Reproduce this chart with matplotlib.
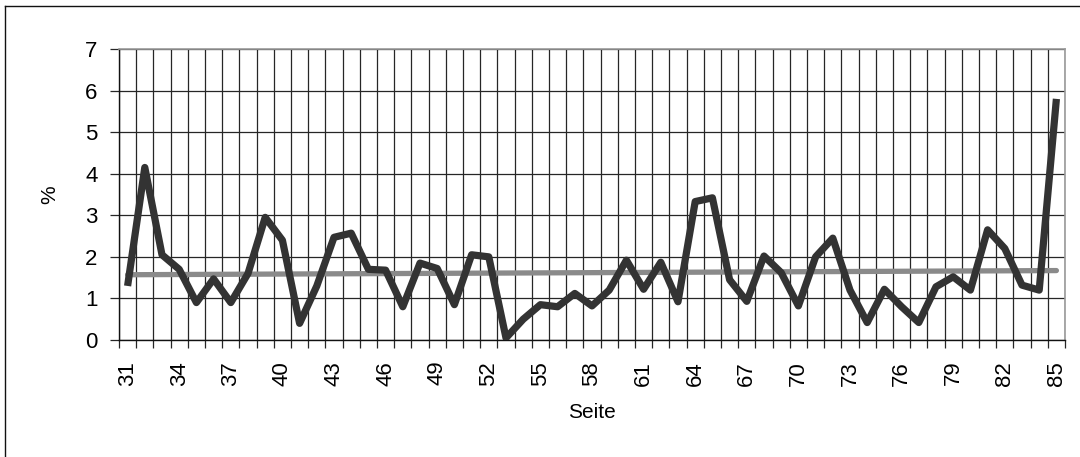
import matplotlib
matplotlib.use("Agg")
import matplotlib.pyplot as plt
from matplotlib.lines import Line2D
from matplotlib.ticker import FixedLocator, NullFormatter

plt.rcParams['font.family'] = ['Liberation Sans', 'DejaVu Sans']

# Pages and share per page (%)
pages = list(range(31, 86))
percent = [
    1.30, 4.15, 2.05, 1.70, 0.90, 1.47, 0.90, 1.60, 2.95, 2.40,
    0.40, 1.30, 2.47, 2.57, 1.70, 1.68, 0.80, 1.85, 1.72, 0.85,
    2.05, 2.00, 0.05, 0.50, 0.85, 0.80, 1.12, 0.82, 1.20, 1.92,
    1.22, 1.87, 0.92, 3.33, 3.42, 1.45, 0.93, 2.02, 1.62, 0.82,
    2.00, 2.45, 1.20, 0.42, 1.22, 0.80, 0.42, 1.28, 1.52, 1.20,
    2.65, 2.20, 1.32, 1.20, 5.80,
]
# Linear trend, value at first and last page
trend_pages = [31, 85]
trend_values = [1.57, 1.67]

y_ticks = [0, 1, 2, 3, 4, 5, 6, 7]
x_label_pages = pages[::3]

W, H = 1080, 457
fig = plt.figure(figsize=(W / 100, H / 100), dpi=100)
fig.patch.set_facecolor("white")

ax = fig.add_axes([119 / W, 1 - 340 / H, 946 / W, 291 / H])
ax.set_xlim(pages[0] - 0.5, pages[-1] + 0.5)
ax.set_ylim(0, 7)

# grid: horizontal at integer values, vertical at category boundaries
grid_color = "#262626"
for y in y_ticks:
    ax.axhline(y, color=grid_color, lw=0.9, zorder=1)
boundaries = [p - 0.5 for p in pages] + [pages[-1] + 0.5]
for b in boundaries:
    ax.axvline(b, color=grid_color, lw=0.9, zorder=1)

ax.plot(trend_pages, trend_values, color="#8a8a8a", lw=3.8,
        solid_capstyle="round", zorder=2)
ax.plot(pages, percent, color="#333333", lw=5.2,
        solid_joinstyle="round", solid_capstyle="butt", zorder=3)

# y axis
ax.set_yticks(y_ticks)
ax.set_yticklabels([str(v) for v in y_ticks])
ax.tick_params(axis="y", direction="out", length=6.5, width=0.9,
               color=grid_color, pad=9, labelsize=16)

# x axis: tick marks on boundaries, labels on every third page
ax.xaxis.set_minor_locator(FixedLocator(boundaries))
ax.xaxis.set_minor_formatter(NullFormatter())
ax.set_xticks(x_label_pages)
ax.set_xticklabels([str(p) for p in x_label_pages], rotation=90)
ax.tick_params(axis="x", which="major", length=0, pad=15, labelsize=16)
ax.tick_params(axis="x", which="minor", direction="out", length=5.8,
               width=0.9, color=grid_color)

for side in ("left", "bottom"):
    ax.spines[side].set_color("#111111")
    ax.spines[side].set_linewidth(1.0)
for side in ("top", "right"):
    ax.spines[side].set_color("#9a9a9a")
    ax.spines[side].set_linewidth(1.2)

fig.text(592 / W, 1 - 412 / H, "Seite", ha="center", va="center", fontsize=15)
fig.text(50 / W, 1 - 195 / H, "%", ha="center", va="center", fontsize=15,
         rotation=90)

# outer chart frame (left and top edges)
fig.add_artist(Line2D([5 / W, 5 / W], [0, 1 - 6 / H], transform=fig.transFigure,
                      color="#111111", lw=1.0))
fig.add_artist(Line2D([5 / W, 1], [1 - 6 / H, 1 - 6 / H], transform=fig.transFigure,
                      color="#111111", lw=1.0))

fig.savefig("out.png", dpi=100, facecolor="white")
